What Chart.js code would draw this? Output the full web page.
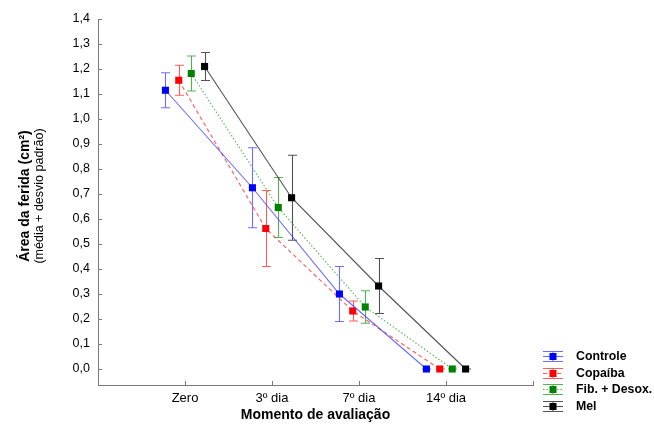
<!DOCTYPE html>
<html>
<head>
<meta charset="utf-8">
<script src="https://cdn.jsdelivr.net/npm/chart.js@4.4.1/dist/chart.umd.min.js"></script>
<style>
  html, body { margin: 0; padding: 0; background: #fff; }
  #wrap { position: relative; width: 654px; height: 426px; }
</style>
</head>
<body>
<div id="wrap"><canvas id="chart" width="654" height="426"></canvas></div>
<script>
// dados (área da ferida, cm²)
const categorias = ['Zero', '3º dia', '7º dia', '14º dia'];
const yTicks = [0, 0.1, 0.2, 0.3, 0.4, 0.5, 0.6, 0.7, 0.8, 0.9, 1.0, 1.1, 1.2, 1.3, 1.4];

const controle    = [1.115, 0.725, 0.300, 0.0];
const controleDP  = [0.070, 0.160, 0.110, 0.0];
const copaiba     = [1.155, 0.562, 0.232, 0.0];
const copaibaDP   = [0.060, 0.152, 0.040, 0.0];
const fibDesox    = [1.182, 0.646, 0.248, 0.0];
const fibDesoxDP  = [0.070, 0.120, 0.065, 0.0];
const mel         = [1.210, 0.685, 0.332, 0.0];
const melDP       = [0.056, 0.170, 0.110, 0.0];

const FONT = '"Liberation Sans", Arial, sans-serif';
const AXIS = '#7a7a7a';

// deslocamento horizontal de cada série em torno da categoria
const series = [
  { label: 'Controle',       values: controle, err: controleDP, off: -0.225, color: '#0000ff', line: 'rgba(60,60,255,0.75)',  dash: [] },
  { label: 'Copaíba',        values: copaiba,  err: copaibaDP,  off: -0.072, color: '#ff0000', line: 'rgba(255,50,50,0.8)',   dash: [4, 3] },
  { label: 'Fib. + Desox.',  values: fibDesox, err: fibDesoxDP, off:  0.072, color: '#008000', line: 'rgba(40,160,40,0.8)',   dash: [1.5, 2] },
  { label: 'Mel',            values: mel,      err: melDP,      off:  0.225, color: '#000000', line: 'rgba(40,40,40,0.8)',    dash: [] }
];

const datasets = series.map(s => ({
  label: s.label,
  data: s.values.map((v, i) => ({ x: i + 1 + s.off, y: v })),
  errs: s.err,
  showLine: true,
  borderColor: s.line,
  borderWidth: 1.1,
  borderDash: s.dash,
  backgroundColor: s.color,
  pointBackgroundColor: s.color,
  pointBorderColor: s.color,
  pointBorderWidth: 0,
  pointStyle: 'rect',
  pointRadius: 5,
  pointHoverRadius: 5,
  tension: 0
}));

// barras de erro, marcas internas dos eixos, títulos e legenda
const extras = {
  id: 'extras',
  beforeDatasetsDraw(chart) {
    const { ctx, scales: { x, y } } = chart;
    ctx.save();
    chart.data.datasets.forEach(ds => {
      ctx.strokeStyle = ds.borderColor;
      ctx.lineWidth = 1.1;
      ctx.setLineDash([]);
      ds.data.forEach((p, i) => {
        const e = ds.errs[i];
        const px = Math.round(x.getPixelForValue(p.x)) + 0.5;
        const top = y.getPixelForValue(p.y + e);
        const bot = y.getPixelForValue(p.y - e);
        ctx.beginPath();
        ctx.moveTo(px, top); ctx.lineTo(px, bot);
        ctx.moveTo(px - 4.5, top); ctx.lineTo(px + 4.5, top);
        ctx.moveTo(px - 4.5, bot); ctx.lineTo(px + 4.5, bot);
        ctx.stroke();
      });
    });
    ctx.restore();
  },
  afterDraw(chart) {
    const { ctx, chartArea: a, scales: { x, y } } = chart;
    ctx.save();
    // marcas dos eixos voltadas para dentro
    ctx.strokeStyle = AXIS;
    ctx.lineWidth = 1;
    ctx.beginPath();
    yTicks.forEach(v => {
      const py = Math.round(y.getPixelForValue(v)) + 0.5;
      ctx.moveTo(a.left, py); ctx.lineTo(a.left + 4, py);
    });
    [1, 2, 3, 4, 5].forEach(v => {
      const px = Math.round(x.getPixelForValue(v)) + 0.5;
      ctx.moveTo(px, a.bottom); ctx.lineTo(px, a.bottom - 4);
    });
    ctx.stroke();

    // títulos dos eixos
    ctx.fillStyle = '#000';
    ctx.textAlign = 'center';
    ctx.textBaseline = 'middle';
    ctx.font = 'bold 14px ' + FONT;
    ctx.fillText('Momento de avaliação', (a.left + a.right) / 2, 415);
    ctx.translate(25, 196);
    ctx.rotate(-Math.PI / 2);
    ctx.fillText('Área da ferida (cm²)', 0, 0);
    ctx.font = '12.5px ' + FONT;
    ctx.fillText('(média + desvio padrão)', 0, 15);
    ctx.setTransform(1, 0, 0, 1, 0, 0);

    // legenda
    const lx = 553, rows = [356, 373, 389, 406];
    chart.data.datasets.forEach((ds, i) => {
      const cy = rows[i] + 0.5;
      ctx.strokeStyle = ds.borderColor;
      ctx.lineWidth = 1.1;
      ctx.setLineDash([]);
      ctx.beginPath();
      ctx.moveTo(lx - 10, cy - 5); ctx.lineTo(lx + 10, cy - 5);
      ctx.moveTo(lx - 10, cy + 5); ctx.lineTo(lx + 10, cy + 5);
      ctx.moveTo(lx, cy - 5); ctx.lineTo(lx, cy + 5);
      ctx.stroke();
      ctx.setLineDash(ds.borderDash);
      ctx.beginPath();
      ctx.moveTo(lx - 10, cy); ctx.lineTo(lx + 10, cy);
      ctx.stroke();
      ctx.setLineDash([]);
      ctx.fillStyle = ds.pointBackgroundColor;
      ctx.fillRect(lx - 3.5, cy - 3.5, 7, 7);
      ctx.fillStyle = '#000';
      ctx.font = 'bold 12.3px ' + FONT;
      ctx.textAlign = 'left';
      ctx.fillText(ds.label, 576, cy);
    });
    ctx.restore();
  }
};

new Chart(document.getElementById('chart'), {
  type: 'scatter',
  data: { datasets },
  options: {
    responsive: false,
    animation: false,
    layout: { padding: { top: 19, right: 121, bottom: 0, left: 0 } },
    plugins: { legend: { display: false }, tooltip: { enabled: false } },
    scales: {
      x: {
        type: 'linear',
        min: 0,
        max: 5,
        afterBuildTicks: s => { s.ticks = [1, 2, 3, 4].map(v => ({ value: v })); },
        afterFit: s => { s.height = 41; },
        grid: { drawOnChartArea: false, drawTicks: false },
        border: { color: AXIS, width: 1 },
        ticks: {
          padding: 6,
          color: '#000',
          font: { family: FONT, size: 13 },
          callback: v => categorias[v - 1]
        }
      },
      y: {
        min: -0.064,
        max: 1.4,
        afterBuildTicks: s => { s.ticks = yTicks.map(v => ({ value: v })); },
        afterFit: s => { s.width = 98; },
        grid: { drawOnChartArea: false, drawTicks: false },
        border: { color: AXIS, width: 1 },
        ticks: {
          padding: 8,
          color: '#000',
          font: { family: FONT, size: 12.5 },
          callback: v => v.toFixed(1).replace('.', ',')
        }
      }
    }
  },
  plugins: [extras]
});
</script>
</body>
</html>
